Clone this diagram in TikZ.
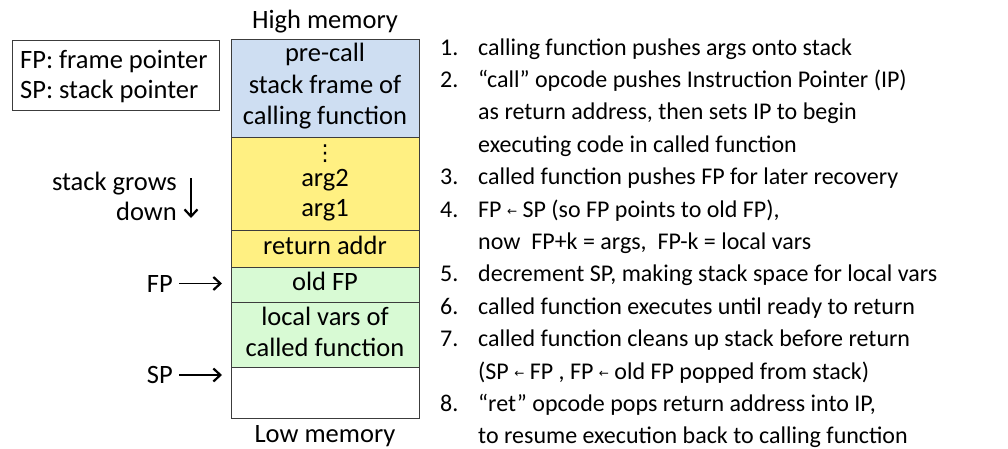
\documentclass[tikz,border=0pt]{standalone}
\usepackage{fontspec}
\setmainfont{Carlito}
\newfontfamily\djv{DejaVu Sans}
\newcommand\myarr{{\raisebox{2pt}{\djv\fontsize{12}{12}\selectfont ←}}}
\usetikzlibrary{arrows.meta}
\definecolor{cellblue}{RGB}{206,222,242}
\definecolor{cellyellow}{RGB}{255,240,130}
\definecolor{cellgreen}{RGB}{216,250,212}
\definecolor{cellborder}{RGB}{60,60,60}
\begin{document}
\begin{tikzpicture}[x=1pt,y=-1pt,
  txt/.style={font=\fontsize{26.5}{31.5}\selectfont, inner sep=0pt, text=black},
  lbl/.style={txt, anchor=base},
  lft/.style={txt, anchor=base west},
  rgt/.style={txt, anchor=base east},
  item/.style={font=\fontsize{24}{30}\selectfont, inner sep=0pt, text=black, anchor=base west},
  cell/.style={draw=cellborder, line width=1.3pt, minimum width=188pt, inner sep=0pt, anchor=north west},
  ptr/.style={-{Straight Barb[length=7pt,width=13pt,line width=2.2pt]}, line width=1.2pt, black}]
\useasboundingbox (0,0) rectangle (1008,448);

% legend
\node[draw=cellborder, line width=1.2pt, minimum width=207pt, minimum height=70pt, inner sep=0pt, anchor=north west] (legend) at (12,40) {};
\node[lft] (legfp) at (20,68) {FP: frame pointer};
\node[lft] (legsp) at (20,98) {SP: stack pointer};

% stack cells
\node[cell, fill=cellblue, minimum height=98pt] (pre) at (231,39) {};
\node[cell, fill=cellyellow, minimum height=93pt] (args) at (231,137) {};
\node[cell, fill=cellyellow, minimum height=37pt] (ret) at (231,230) {};
\node[cell, fill=cellgreen, minimum height=35pt] (oldfp) at (231,267) {};
\node[cell, fill=cellgreen, minimum height=65pt] (locals) at (231,302) {};
\node[cell, fill=white, minimum height=51pt] (free) at (231,367) {};

% cell texts
\node[lbl] (hi) at (325,28) {High memory};
\node[lbl] (t1) at (325,61) {pre-call};
\node[lbl] (t2) at (325,93) {stack frame of};
\node[lbl] (t3) at (325,124) {calling function};
\node[inner sep=0pt] (dots) at (325,154) {\djv\fontsize{22}{22}\selectfont ⋮};
\node[lbl] (a2) at (325,186) {arg2};
\node[lbl] (a1) at (325,216) {arg1};
\node[lbl] (ra) at (325,254) {return addr};
\node[lbl] (of) at (325,290) {old FP};
\node[lbl] (lv1) at (325,325) {local vars of};
\node[lbl] (lv2) at (325,356) {called function};
\node[lbl] (lo) at (325,442) {Low memory};

% left side labels
\node[rgt] (grows) at (177,190) {stack grows};
\node[rgt] (down) at (177,220) {down};
\coordinate (dtop) at (191,178);
\coordinate (dbot) at (191,218);
\draw[ptr] (dtop) -- (dbot);

\node[rgt] (fp) at (173,292) {FP};
\node[rgt] (sp) at (173,383) {SP};
\coordinate (fptip) at (222,283.5);
\coordinate (sptip) at (222,375);
\draw[ptr] (fp.east |- fptip) ++(6,0) coordinate (fpstart) -- (fptip);
\draw[ptr] (sp.east |- sptip) ++(6,0) coordinate (spstart) -- (sptip);

% numbered list
\foreach \n/\k in {1/0,2/1,3/4,4/5,5/7,6/8,7/9,8/11}{
  \node[item] (num\n) at (440,55+32.4*\k) {\n.};
}
\node[item] (l1) at (478,55+32.4*0) {calling function pushes args onto stack};
\node[item] (l2) at (478,55+32.4*1) {“call” opcode pushes Instruction Pointer (IP)};
\node[item] (l3) at (478,55+32.4*2) {as return address, then sets IP to begin};
\node[item] (l4) at (478,55+32.4*3) {executing code in called function};
\node[item] (l5) at (478,55+32.4*4) {called function pushes FP for later recovery};
\node[item] (l6) at (478,55+32.4*5) {FP \myarr\ SP (so FP points to old FP),};
\node[item] (l7) at (478,55+32.4*6) {now\ \ FP+k = args,\ \ FP-k = local vars};
\node[item] (l8) at (478,55+32.4*7) {decrement SP, making stack space for local vars};
\node[item] (l9) at (478,55+32.4*8) {called function executes until ready to return};
\node[item] (l10) at (478,55+32.4*9) {called function cleans up stack before return};
\node[item] (l11) at (478,55+32.4*10) {(SP \myarr\ FP , FP \myarr\ old FP popped from stack)};
\node[item] (l12) at (478,55+32.4*11) {“ret” opcode pops return address into IP,};
\node[item] (l13) at (478,55+32.4*12) {to resume execution back to calling function};
\end{tikzpicture}
\end{document}
